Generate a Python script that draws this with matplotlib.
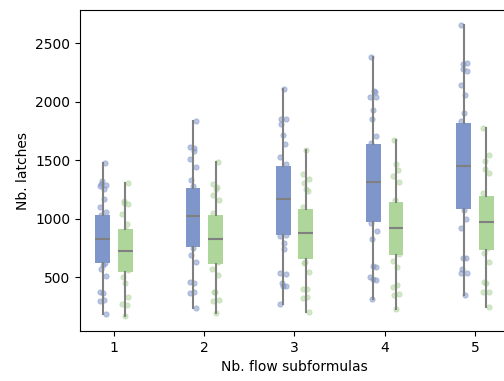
import numpy as np
import matplotlib.pyplot as plt

# nombre de sous-formules (axe x)
categorias = [1, 2, 3, 4, 5]

# statistiques des boîtes: q1, mediane, q3, min, max
azul_q1 = [617, 754, 859, 973, 1078]
azul_med = [822, 1024, 1167, 1312, 1452]
azul_q3 = [1027, 1266, 1454, 1637, 1819]
azul_min = [184, 232, 269, 309, 346]
azul_max = [1477, 1836, 2112, 2383, 2660]

verde_q1 = [546, 611, 654, 688, 731]
verde_med = [725, 825, 879, 922, 973]
verde_q3 = [907, 1027, 1084, 1144, 1195]
verde_min = [164, 190, 204, 224, 246]
verde_max = [1303, 1483, 1583, 1674, 1776]

# puntos individuales
azul_puntos = [
    [1477, 1320, 1300, 1290, 1280, 1250, 1170, 1100, 1055, 1030, 900, 820,
     700, 617, 600, 565, 508, 372, 366, 306, 295, 184],
    [1836, 1614, 1600, 1580, 1506, 1443, 1329, 1280, 1100, 950, 800, 745,
     688, 631, 460, 452, 375, 360, 232],
    [2112, 1856, 1850, 1808, 1719, 1642, 1523, 1466, 1300, 1000, 859, 855,
     788, 736, 531, 523, 446, 423, 420, 269],
    [2383, 2090, 2085, 2041, 2038, 1933, 1856, 1708, 1645, 1400, 1067, 964,
     896, 828, 597, 588, 497, 475, 480, 309],
    [2660, 2335, 2326, 2278, 2263, 2141, 2058, 1905, 1836, 1600, 1200, 1073,
     993, 922, 665, 660, 565, 537, 531, 346],
]
verde_puntos = [
    [1303, 1150, 1135, 1124, 1035, 953, 900, 800, 560, 503, 446, 332, 269,
     261, 164],
    [1483, 1292, 1272, 1255, 1200, 1158, 1044, 900, 628, 565, 517, 375, 372,
     303, 295, 190],
    [1583, 1380, 1343, 1306, 1249, 1240, 1101, 950, 630, 617, 546, 400, 394,
     332, 323, 204],
    [1674, 1466, 1414, 1363, 1315, 1158, 1000, 700, 640, 588, 429, 412, 355,
     346, 224],
    [1776, 1548, 1491, 1423, 1386, 1215, 1000, 745, 702, 631, 460, 446, 375,
     369, 246],
]

color_azul = '#7f96ca'
color_verde = '#aed59a'
gris = '#808080'


def estadisticas(q1, med, q3, lo, hi):
    stats = []
    for a, b, c, d, e in zip(q1, med, q3, lo, hi):
        stats.append(dict(q1=a, med=b, q3=c, whislo=d, whishi=e, fliers=[]))
    return stats


fig = plt.figure(figsize=(5.04, 3.81), dpi=100)
ax = fig.add_axes([80 / 504, 50 / 381, 429 / 504, 321 / 381])

for puntos, desp, color in [(azul_puntos, -0.125, color_azul),
                            (verde_puntos, 0.125, color_verde)]:
    for cat, vals in zip(categorias, puntos):
        jit = 0.035 * np.sin(np.arange(len(vals)) * 2.4 + cat)
        ax.plot(cat + desp + jit, vals, 'o', ms=3.8, color=color, alpha=0.55,
                mec=color, mew=0.6, zorder=1)

for stats, desp, color in [
        (estadisticas(azul_q1, azul_med, azul_q3, azul_min, azul_max), -0.125, color_azul),
        (estadisticas(verde_q1, verde_med, verde_q3, verde_min, verde_max), 0.125, color_verde)]:
    ax.bxp(stats, positions=[c + desp for c in categorias], widths=0.163,
           patch_artist=True, showcaps=False, showfliers=False,
           boxprops=dict(facecolor=color, edgecolor=color, linewidth=0),
           whiskerprops=dict(color=gris, linewidth=1.5),
           medianprops=dict(color=gris, linewidth=1.5), zorder=2,
           manage_ticks=False)

ax.set_xlim(0.624, 5.376)
ax.set_ylim(38, 2785)
ax.set_xticks(categorias)
ax.set_xticklabels([str(c) for c in categorias])
ax.set_yticks([500, 1000, 1500, 2000, 2500])
ax.set_xlabel('Nb. flow subformulas')
ax.set_ylabel('Nb. latches')

fig.savefig('out.png', dpi=100)
